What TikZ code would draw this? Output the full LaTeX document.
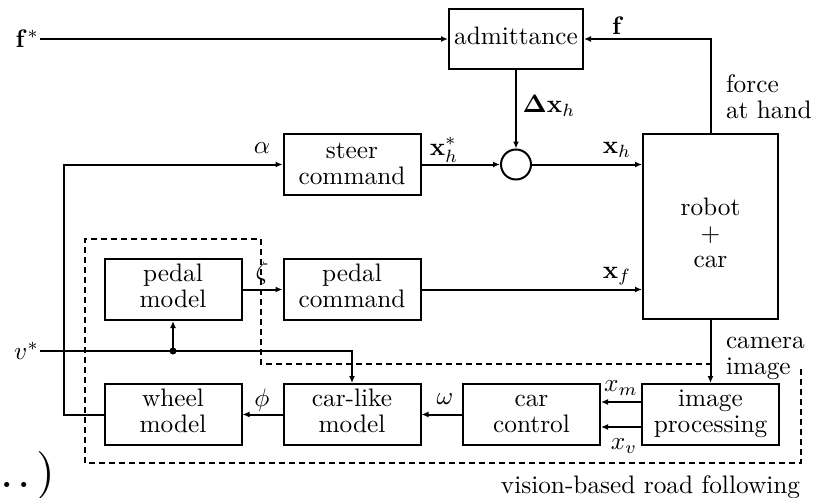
\documentclass[tikz,border=0pt]{standalone}
\usepackage{graphicx}
\usetikzlibrary{arrows.meta}
\newcommand{\Tc}[1]{\scalebox{2.53}{\fontsize{10}{10.3}\selectfont\begin{tabular}{@{}c@{}}#1\end{tabular}}}
\newcommand{\Tl}[1]{\scalebox{2.53}{\fontsize{10}{10.3}\selectfont\begin{tabular}{@{}l@{}}#1\end{tabular}}}
\newcommand{\Tm}[1]{\scalebox{2.53}{\fontsize{10}{12}\selectfont #1}}
\begin{document}
\begin{tikzpicture}[x=1pt,y=-1pt, line width=2pt,
  box/.style={draw, line width=2pt, align=center, inner sep=0pt, minimum width=137pt, minimum height=61pt},
  lbl/.style={inner sep=0pt},
  arr/.style={line width=2pt, -{Latex[length=7pt,width=6pt]}},
  dashbox/.style={dash pattern=on 6pt off 4pt, line width=1.8pt}]
\useasboundingbox (0,0) rectangle (817,498);
% boxes
\node[box, minimum width=134pt, minimum height=60pt] (adm) at (516,39) {\Tc{admittance}};
\node[box] (steer) at (352,164.5) {\raisebox{-2pt}[\height][\depth]{\Tc{steer\\command}}};
\node[draw, circle, minimum size=30pt, inner sep=0pt] (sum) at (516,164.5) {};
\node[box, minimum width=135pt, minimum height=185pt] (robot) at (710.5,226.5) {\raisebox{-10pt}[\height][\depth]{\Tc{robot\\+\\car}}};
\node[box] (pmodel) at (173,289.5) {\Tc{pedal\\model}};
\node[box] (pcmd) at (352,289.5) {\Tc{pedal\\command}};
\node[box] (wheel) at (173,414.5) {\Tc{wheel\\model}};
\node[box] (carlike) at (352,414.5) {\Tc{car-like\\model}};
\node[box] (carctrl) at (531.5,414.5) {\Tc{car\\control}};
\node[box] (imgproc) at (710.5,414.5) {\Tc{image\\processing}};
% inputs
\node[lbl, anchor=east] (fstar) at (40,39) {\Tm{$\mathbf{f}^{*}$}};
\node[lbl, anchor=east] (vstar) at (40,351) {\Tm{$v^{*}$}};
% connectors
\draw[arr] (fstar.east) -- (adm.west);
\draw[arr] (robot.north) |- (adm.east);
\draw[arr] (adm.south) -- (sum.north);
\draw[arr] (steer.east) -- (sum.west);
\draw[arr] (sum.east) -- (robot.west |- sum.east);
\draw[arr] (pmodel.east) -- (pcmd.west);
\draw[arr] (pcmd.east) -- (robot.west |- pcmd.east);
\draw[arr] (robot.south) -- (imgproc.north);
\draw[arr] ([yshift=12.5pt]imgproc.west) -- ([yshift=12.5pt]carctrl.east);
\draw[arr] ([yshift=-12.5pt]imgproc.west) -- ([yshift=-12.5pt]carctrl.east);
\draw[arr] (carctrl.west) -- (carlike.east);
\draw[arr] (carlike.west) -- (wheel.east);
\draw[arr] (wheel.west) -- ++(-40,0) |- (steer.west);
\draw[arr] (vstar.east) -| (carlike.north);
\coordinate (vdot) at (pmodel.south |- vstar.east);
\fill (vdot) circle (3.5pt);
\draw[arr] (vdot) -- (pmodel.south);
% dashed region
\draw[dashbox] (712,364) -- (261,364) -- (261,239) -- (85,239) -- (85,463) -- (801,463) -- (801,368);
% labels
\node[lbl] at (618,26) {\Tm{$\mathbf{f}$}};
\node[lbl] at (549,106) {\Tm{$\mathbf{\Delta x}_h$}};
\node[lbl] at (444,150) {\Tm{$\mathbf{x}_h^{*}$}};
\node[lbl] at (617,150) {\Tm{$\mathbf{x}_h$}};
\node[lbl] at (262,148) {\Tm{$\alpha$}};
\node[lbl] at (262,273) {\Tm{$\zeta$}};
\node[lbl] at (617,276) {\Tm{$\mathbf{x}_f$}};
\node[lbl] at (262,400) {\Tm{$\phi$}};
\node[lbl] at (445,399) {\Tm{$\omega$}};
\node[lbl] at (621,388) {\Tm{$x_m$}};
\node[lbl] at (624,446) {\Tm{$x_v$}};
\node[lbl, anchor=west] at (725,100) {\Tl{force\\at hand}};
\node[lbl, anchor=west] at (725,356) {\Tl{camera\\image}};
\node[lbl, anchor=east] at (801,487) {\Tm{vision-based road following}};
\node[inner sep=0pt, anchor=base west] at (-1,487) {\scalebox{4.8}{\fontsize{10}{12}\selectfont .\kern0.8pt.\kern1.2pt)}};
\end{tikzpicture}
\end{document}
